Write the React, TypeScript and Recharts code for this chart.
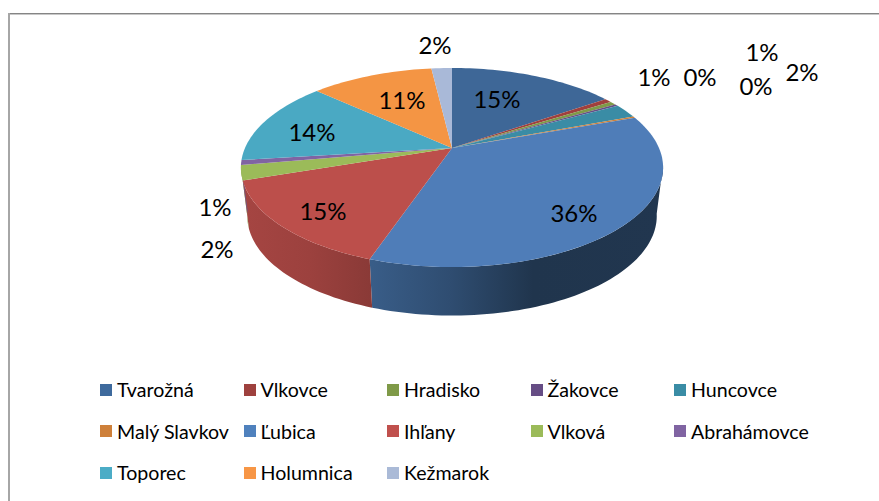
import React from "react";
import { PieChart, Pie, Legend } from "recharts";

const categories = ["Tvarožná","Vlkovce","Hradisko","Žakovce","Huncovce","Malý Slavkov","Ľubica","Ihľany","Vlková","Abrahámovce","Toporec","Holumnica","Kežmarok"];
const values = [15.4,0.67,0.6,0.33,2.3,0.25,35.7,14.6,2.4,0.8,13.7,11.35,1.9];
const topColors = ["#3e6797","#a0403d","#7f9a48","#664d85","#3a8ca5","#ce803a","#4f7db8","#bc4f4b","#9bbb59","#8064a2","#4aa9c3","#f49544","#a9b9d8"];
const legendColors = ["#3e6a9d","#9e413e","#7f9a48","#664d85","#3a8ca5","#ce803a","#4f81bd","#c0504d","#9bbb59","#8064a2","#4bacc6","#f79646","#aabad7"];
const labelCenters: [number, number][] = [[497,98],[654,76],[762,51],[700,76],[802,71],[756,85],[574,212],[323,210],[217,248],[215,206],[312,131],[402,99],[435,44]];

const W = 879, H = 501;
const APEX_X = 452, APEX_Y = 148;
const K = -0.196, A = 95.7, C = 207;
const BASE_SCALE_X = 0.97, BASE_DROP = 48.5;
const FRONT_FROM = -10, FRONT_TO = -172;

const rows = categories.map((name, i) => ({ name, value: values[i], fill: legendColors[i] }));

function project(deg: number, base: boolean): [number, number] {
  const r = (deg * Math.PI) / 180;
  const u = Math.cos(r), v = -Math.sin(r);
  const w = 1 + K * v;
  const s = base ? BASE_SCALE_X : 1;
  return [APEX_X + (s * C * u) / w, APEX_Y + (base ? BASE_DROP : 0) + (A * v) / w];
}

function arc(a: number, b: number, base: boolean) {
  const n = Math.max(2, Math.ceil(Math.abs(a - b) / 1.5));
  const out: string[] = [];
  for (let i = 0; i <= n; i++) {
    const p = project(a + ((b - a) * i) / n, base);
    out.push(p[0].toFixed(2) + " " + p[1].toFixed(2));
  }
  return out;
}

const TopFace = (p: any) => (
  <path
    d={"M" + APEX_X + " " + APEX_Y + " L" + arc(p.startAngle, p.endAngle, false).join(" L") + " Z"}
    fill={topColors[p.index]}
    stroke="none"
  />
);

const SideFace = (p: any) => {
  const a = Math.min(p.startAngle, FRONT_FROM);
  const b = Math.max(p.endAngle, FRONT_TO);
  if (a <= b) return null;
  const top = arc(a, b, false);
  const bottom = arc(b, a, true);
  return <path d={"M" + top.concat(bottom).join(" L") + " Z"} fill={"url(#side-" + p.index + ")"} stroke="none" />;
};

const shadeStops: [number, number][] = [[245, 0.86], [310, 0.81], [370, 0.72], [450, 0.6], [533, 0.41], [663, 0.42]];
function shade(hex: string, f: number) {
  const n = parseInt(hex.slice(1), 16);
  const c = [n >> 16, (n >> 8) & 255, n & 255].map((x) => Math.round(x * f));
  return "rgb(" + c.join(",") + ")";
}

const renderLabel = (p: any) => {
  const c = labelCenters[p.index];
  return (
    <text key={p.index} x={c[0]} y={c[1]} textAnchor="middle" dominantBaseline="central" fontSize={24} fill="#000" fontFamily="Lato">
      {Math.round(p.percent * 100) + "%"}
    </text>
  );
};

const renderLegend = () => (
  <div style={{ display: "grid", gridTemplateColumns: "repeat(5, 143.5px)", gridAutoRows: "41.5px", fontFamily: "Lato", fontSize: 19.6, color: "#000" }}>
    {rows.map((r) => (
      <div key={r.name} style={{ display: "flex", alignItems: "center" }}>
        <span style={{ width: 12, height: 12, background: r.fill, marginRight: 5, flex: "none" }} />
        <span style={{ whiteSpace: "nowrap" }}>{r.name}</span>
      </div>
    ))}
  </div>
);

export default function App() {
  return (
    <div style={{ position: "absolute", left: 0, top: 0, width: W, height: H, background: "#fff", overflow: "hidden" }}>
      <div style={{ position: "absolute", left: 8, top: 13, width: W - 8, height: 1, background: "#858585" }} />
      <div style={{ position: "absolute", left: 8, top: 14, width: W - 8, height: 1, background: "#c8c8c8" }} />
      <div style={{ position: "absolute", left: 8, top: 13, width: 2, height: H - 13, background: "#a6a6a6" }} />
      <PieChart width={W} height={H} style={{ position: "absolute", left: 0, top: 0 }}>
        <defs>
          {legendColors.map((col, i) => (
            <linearGradient key={i} id={"side-" + i} gradientUnits="userSpaceOnUse" x1={245} x2={663} y1={0} y2={0}>
              {shadeStops.map(([x, f]) => (
                <stop key={x} offset={(x - 245) / 418} stopColor={shade(col, f)} />
              ))}
            </linearGradient>
          ))}
        </defs>
        <Pie data={rows} dataKey="value" nameKey="name" cx={APEX_X} cy={APEX_Y} outerRadius={200} startAngle={90} endAngle={-270} isAnimationActive={false} legendType="none" shape={SideFace} label={false} labelLine={false} />
        <Pie data={rows} dataKey="value" nameKey="name" cx={APEX_X} cy={APEX_Y} outerRadius={200} startAngle={90} endAngle={-270} isAnimationActive={false} shape={TopFace} label={renderLabel} labelLine={false} />
        <Legend content={renderLegend} wrapperStyle={{ position: "absolute", left: 100, top: 369, width: 760, height: 125 }} />
      </PieChart>
    </div>
  );
}
